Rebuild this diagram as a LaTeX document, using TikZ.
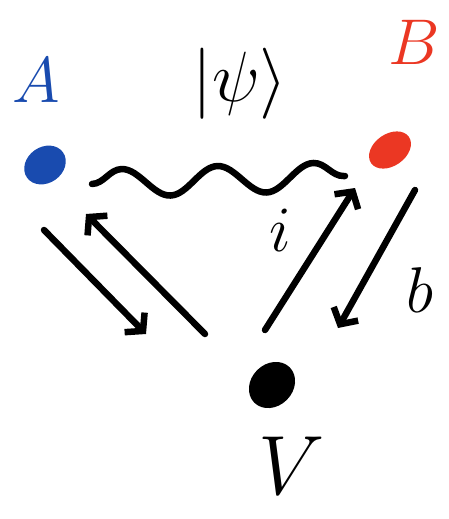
\documentclass[tikz,border=0pt]{standalone}
\usetikzlibrary{arrows.meta,decorations.pathmorphing,positioning,shapes.geometric}
\definecolor{sketchblue}{RGB}{25,75,175}
\definecolor{sketchred}{RGB}{235,55,35}
\tikzset{
  dot/.style={ellipse, fill, inner sep=0pt, minimum width=44pt, minimum height=36pt, rotate=35},
  bigtext/.style={font=\Huge, scale=2.6, inner sep=0pt},
  link/.style={line width=6.5pt, line cap=round, -{Straight Barb[length=12pt,width=28pt,line width=6.5pt]}},
}
\begin{document}
\begin{tikzpicture}[x=1pt, y=-1pt]
  \useasboundingbox (0,0) rectangle (448,519);
  % 1. 三个点与标签
  \node[dot, sketchblue] (A) at (45,165) {};
  \node[dot, sketchred, minimum width=46pt, minimum height=32pt] (B) at (390,150) {};
  \node[dot, black, minimum width=50pt, minimum height=42pt, rotate=10] (V) at (272,385) {};
  \node[bigtext, sketchblue] (Alab) at (36,80) {$A$};
  \node[bigtext, sketchred] (Blab) at (414,42) {$B$};
  \node[bigtext, scale=1.3] (Vlab) at (292,466) {$V$};
  \node[bigtext, scale=1.1] (psi) at (240,84) {$|\psi\rangle$};

  % 2. 纠缠态波浪线
  \coordinate (wl) at (92,184);
  \coordinate (wr) at (345,176);
  \draw[line width=6.5pt, line cap=round, decorate,
        decoration={snake, amplitude=14pt, segment length=96pt}] (wl) -- (wr);

  % 3. 左侧往返箭头 A <-> V
  \coordinate (a1) at (44,230);
  \coordinate (a2) at (146,334);
  \coordinate (a3) at (205,334);
  \coordinate (a4) at (86,214);
  \draw[link] (a1) -- (a2);
  \draw[link] (a3) -- (a4);

  % 4. 右侧箭头 V -> B (i) 与 B -> V (b)
  \coordinate (b1) at (265,330);
  \coordinate (b2) at (355,188);
  \coordinate (b3) at (415,190);
  \coordinate (b4) at (338,328);
  \draw[link] (b1) -- (b2);
  \draw[link] (b3) -- (b4);
  \node[bigtext] (ilab) at (280,230) {$i$};
  \node[bigtext] (blab) at (420,290) {$b$};
\end{tikzpicture}
\end{document}
